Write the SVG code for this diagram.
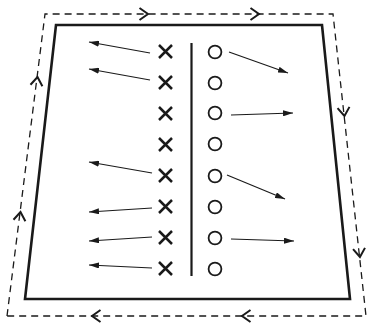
<svg xmlns="http://www.w3.org/2000/svg" width="367" height="323" viewBox="0 0 367 323">
<style>
.frame{fill:none;stroke:#1a1a1a;stroke-width:2.6;stroke-linejoin:miter}
.dash{fill:none;stroke:#1a1a1a;stroke-width:1.3;stroke-dasharray:7 5}
.chev{fill:none;stroke:#1a1a1a;stroke-width:2;stroke-linecap:butt;stroke-linejoin:miter}
.xm{stroke:#1a1a1a;stroke-width:2.5;stroke-linecap:butt}
.oc{fill:none;stroke:#1a1a1a;stroke-width:1.8}
.arr{stroke:#1a1a1a;stroke-width:1.2;fill:none;marker-end:url(#ah)}
</style>
<defs>
<marker id="ah" viewBox="0 0 10 6" refX="10" refY="3" markerWidth="10" markerHeight="6" markerUnits="userSpaceOnUse" orient="auto">
<path d="M0,0 L10,3 L0,6 Z" fill="#1a1a1a"/>
</marker>
<path id="cv" d="M-4.5,-6 L4,0 L-4.5,6"/>
</defs>
<rect width="367" height="323" fill="#fff"/>
<g id="outer-loop">
<polyline class="dash" points="7,316 45,14 333,14 366,316 7,316"/>
<use href="#cv" class="chev" transform="translate(37,81) rotate(-82.8)"/>
<use href="#cv" class="chev" transform="translate(20,216) rotate(-82.8)"/>
<use href="#cv" class="chev" transform="translate(144,14)"/>
<use href="#cv" class="chev" transform="translate(255,14)"/>
<use href="#cv" class="chev" transform="translate(344,112) rotate(83.8)"/>
<use href="#cv" class="chev" transform="translate(359.5,253) rotate(83.8)"/>
<use href="#cv" class="chev" transform="translate(246,316) rotate(180)"/>
<use href="#cv" class="chev" transform="translate(96,316) rotate(180)"/>
</g>
<g id="frame">
<polygon class="frame" points="56,25 322,25 350,299 25,299"/>
</g>
<g id="divider">
<line x1="191.5" y1="43" x2="191.5" y2="276" stroke="#1a1a1a" stroke-width="2.2"/>
</g>
<g id="crosses">
<path class="xm" d="M159,45 l13,13 m0,-13 l-13,13 M159,76 l13,13 m0,-13 l-13,13 M159,107 l13,13 m0,-13 l-13,13 M159,138 l13,13 m0,-13 l-13,13 M159,169 l13,13 m0,-13 l-13,13 M159,200 l13,13 m0,-13 l-13,13 M159,231 l13,13 m0,-13 l-13,13 M159,262 l13,13 m0,-13 l-13,13"/>
</g>
<g id="circles">
<circle class="oc" cx="215" cy="52" r="6.4"/>
<circle class="oc" cx="215" cy="83" r="6.4"/>
<circle class="oc" cx="215" cy="113" r="6.4"/>
<circle class="oc" cx="215" cy="144" r="6.4"/>
<circle class="oc" cx="215" cy="176" r="6.4"/>
<circle class="oc" cx="215" cy="207" r="6.4"/>
<circle class="oc" cx="215" cy="238" r="6.4"/>
<circle class="oc" cx="215" cy="269" r="6.4"/>
</g>
<g id="connectors">
<line class="arr" x1="150" y1="53" x2="89" y2="42"/>
<line class="arr" x1="150" y1="80" x2="89" y2="69"/>
<line class="arr" x1="152" y1="173" x2="89" y2="162"/>
<line class="arr" x1="152" y1="208" x2="89" y2="212"/>
<line class="arr" x1="152" y1="237" x2="89" y2="241"/>
<line class="arr" x1="152" y1="268" x2="89" y2="265"/>
<line class="arr" x1="229" y1="52" x2="288" y2="73"/>
<line class="arr" x1="231" y1="115" x2="293" y2="113"/>
<line class="arr" x1="227" y1="175" x2="285" y2="199"/>
<line class="arr" x1="231" y1="239" x2="294" y2="241"/>
</g>
</svg>
